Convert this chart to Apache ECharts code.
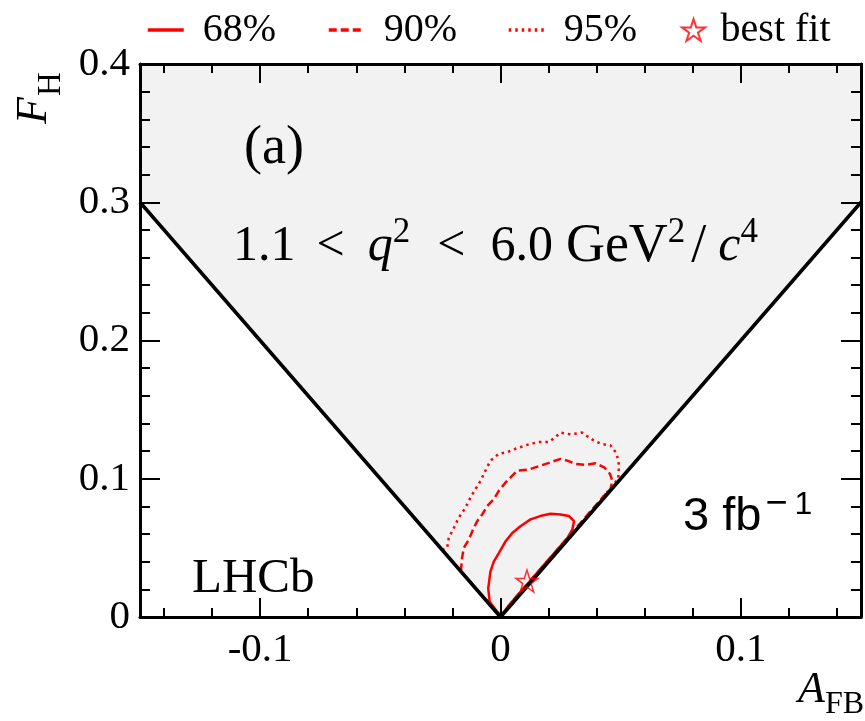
<!DOCTYPE html>
<html>
<head>
<meta charset="utf-8">
<script src="https://cdn.jsdelivr.net/npm/echarts@6/dist/echarts.min.js"></script>
<style>
  html, body { margin: 0; padding: 0; background: #ffffff; }
  #chart { width: 865px; height: 721px; }
</style>
</head>
<body>
<div id="chart"></div>
<script>
// Tick positions
const xMajorTicks = [-0.1, 0, 0.1];
const xMinorTicks = [-0.14, -0.12, -0.08, -0.06, -0.04, -0.02, 0.02, 0.04, 0.06, 0.08, 0.12, 0.14];

// Physical region (shaded) and its boundary |A_FB| = F_H / 2
const allowedRegion = [[-0.15, 0.4], [-0.15, 0.3], [0, 0], [0.15, 0.3], [0.15, 0.4]];
const boundary = [[-0.15, 0.3], [0, 0], [0.15, 0.3]];

// Confidence contours (A_FB, F_H)
const contour68 = [
  [0.0003, 0.001], [-0.002, 0.005], [-0.0045, 0.011], [-0.0051, 0.0207], [-0.0042, 0.0328],
  [-0.0028, 0.0401], [-0.0007, 0.0462], [0.0021, 0.0547], [0.0049, 0.0608], [0.0083, 0.0657],
  [0.0125, 0.0706], [0.0165, 0.073], [0.0208, 0.0747], [0.025, 0.0742], [0.0285, 0.073],
  [0.0306, 0.0693], [0.0299, 0.0633], [0.0276, 0.0565], [0.0190, 0.0395], [0.0110, 0.0235],
  [0.0040, 0.0095], [0.0003, 0.001]
];
const contour90 = [
  [-0.0165, 0.033], [-0.016, 0.0426], [-0.0153, 0.0499], [-0.0132, 0.056], [-0.0111, 0.0645],
  [-0.0097, 0.0693], [-0.0076, 0.0742], [-0.0055, 0.0803], [-0.0028, 0.0852], [-0.0007, 0.0912],
  [0.0021, 0.0973], [0.0049, 0.1022], [0.0069, 0.1058], [0.0111, 0.1066], [0.0125, 0.1071],
  [0.0167, 0.1095], [0.0208, 0.1119], [0.025, 0.1144], [0.0278, 0.1131], [0.0313, 0.1107],
  [0.0354, 0.11], [0.0396, 0.1112], [0.0431, 0.1083], [0.0456, 0.1034], [0.0465, 0.0985],
  [0.0458, 0.0925], [0.0440, 0.0895], [0.0350, 0.0715], [0.0250, 0.0515], [0.0150, 0.0315],
  [0.0060, 0.0135], [0.0003, 0.001], [-0.008, 0.016], [-0.0165, 0.033]
];
const contour95 = [
  [-0.0243, 0.0487], [-0.0222, 0.0500], [-0.0215, 0.0572], [-0.0194, 0.0645], [-0.0174, 0.0718],
  [-0.0146, 0.079], [-0.0125, 0.0864], [-0.0104, 0.0925], [-0.0083, 0.0985], [-0.0063, 0.1058],
  [-0.0042, 0.1131], [-0.0007, 0.118], [0.0028, 0.1192], [0.0063, 0.1217], [0.0104, 0.1241],
  [0.0125, 0.1253], [0.016, 0.1265], [0.0201, 0.1265], [0.0229, 0.1302], [0.025, 0.1334],
  [0.0292, 0.1321], [0.034, 0.1334], [0.0375, 0.129], [0.0417, 0.1253], [0.0458, 0.1241],
  [0.0479, 0.1192], [0.0489, 0.1144], [0.0493, 0.1095], [0.0490, 0.1000], [0.0425, 0.0865]
];
const bestFit = [[0.011, 0.026]];

const seriesNames = ['68%', '90%', '95%', 'best fit'];

const SERIF = '"Liberation Serif", "Times New Roman", serif';
const SANS = '"Liberation Sans", Arial, sans-serif';
const RED = '#ff0000';
const CLEAR = 'rgba(0,0,0,0)';
const STAR = 'path://M50,2 L61.2,36.6 L97.6,36.6 L68.2,58 L79.4,92.6 L50,71.2 L20.6,92.6 L31.8,58 L2.4,36.6 L38.8,36.6 Z';

const X_MIN = -0.15, X_MAX = 0.15, Y_MIN = 0, Y_MAX = 0.4;

function xAxisDef(position, ticks, tickLen, showLine, showLabel) {
  return {
    type: 'value', position: position, min: X_MIN, max: X_MAX, z: 10,
    axisLine: { show: showLine, onZero: false, lineStyle: { color: '#000', width: 3 } },
    axisTick: { show: true, inside: true, length: tickLen, customValues: ticks,
                lineStyle: { color: '#000', width: 2 } },
    axisLabel: showLabel ? { show: true, customValues: ticks, color: '#000',
                fontFamily: SERIF, fontSize: 41, margin: 13 } : { show: false },
    splitLine: { show: false }
  };
}
function yAxisDef(position, showLabel) {
  return {
    type: 'value', position: position, min: Y_MIN, max: Y_MAX, interval: 0.1, z: 10,
    axisLine: { show: true, onZero: false, lineStyle: { color: '#000', width: 3 } },
    axisTick: { show: true, inside: true, length: 20, lineStyle: { color: '#000', width: 2 } },
    minorTick: { show: true, splitNumber: 5, length: 10, lineStyle: { color: '#000', width: 2 } },
    axisLabel: showLabel ? { show: true, color: '#000', fontFamily: SERIF, fontSize: 41, margin: 10 }
                         : { show: false },
    splitLine: { show: false },
    minorSplitLine: { show: false }
  };
}

// One legend block per entry so each sits at its own offset
function legendItem(name, left, textPad, isLine) {
  const lg = {
    data: [name], left: left, top: 10, padding: 0, orient: 'horizontal',
    itemWidth: 36, itemHeight: 22, selectedMode: false,
    textStyle: { fontFamily: SERIF, fontSize: 40, color: '#000', padding: [0, 0, 0, textPad] }
  };
  if (isLine) {
    lg.itemStyle = { color: CLEAR, borderColor: CLEAR, borderWidth: 0 };
    lg.lineStyle = { width: 3.5 };
  }
  return lg;
}

const chart = echarts.init(document.getElementById('chart'), null, { renderer: 'canvas' });

chart.setOption({
  animation: false,
  backgroundColor: '#ffffff',
  grid: { left: 140, right: 4, top: 64, bottom: 104, containLabel: false, outerBoundsMode: 'none' },
  legend: [
    legendItem(seriesNames[0], 146, 14, true),
    legendItem(seriesNames[1], 327, 14, true),
    legendItem(seriesNames[2], 507, 14, true),
    legendItem(seriesNames[3], 681, 4, false)
  ],
  xAxis: [
    xAxisDef('bottom', xMajorTicks, 19, true, true),
    xAxisDef('bottom', xMinorTicks, 9, false, false),
    xAxisDef('top', xMajorTicks, 19, true, false),
    xAxisDef('top', xMinorTicks, 9, false, false)
  ],
  yAxis: [
    yAxisDef('left', true),
    yAxisDef('right', false)
  ],
  graphic: [
    { type: 'text', x: 34, y: 124, rotation: Math.PI / 2, z: 100,
      style: { text: '{i|F}{s|H}', align: 'left', verticalAlign: 'middle', fill: '#000',
        rich: { i: { fontFamily: SERIF, fontStyle: 'italic', fontSize: 44 },
                s: { fontFamily: SERIF, fontSize: 33, padding: [34, 0, 0, 1] } } } },
    { type: 'text', x: 798, y: 690, z: 100,
      style: { text: '{i|A}{s|FB}', align: 'left', verticalAlign: 'middle', fill: '#000',
        rich: { i: { fontFamily: SERIF, fontStyle: 'italic', fontSize: 44 },
                s: { fontFamily: SERIF, fontSize: 32, padding: [30, 0, 0, 0] } } } },
    { type: 'text', x: 244, y: 149, z: 100,
      style: { text: '(a)', font: '54px ' + SERIF, fill: '#000', align: 'left', verticalAlign: 'middle' } },
    { type: 'text', x: 233, y: 247, z: 100,
      style: { text: '{n|1.1}{op|<}{iq|q}{sup|2}{op2|<}{n2|6.0}{u|GeV}{sup|2}{sl|/}{ic|c}{sup|4}',
        align: 'left', verticalAlign: 'middle', fill: '#000',
        rich: {
          n: { fontFamily: SERIF, fontSize: 50 },
          op: { fontFamily: SERIF, fontSize: 50, padding: [0, 0, 0, 21] },
          iq: { fontFamily: SERIF, fontStyle: 'italic', fontSize: 50, padding: [0, 0, 0, 23] },
          op2: { fontFamily: SERIF, fontSize: 50, padding: [0, 0, 0, 27] },
          n2: { fontFamily: SERIF, fontSize: 50, padding: [0, 0, 0, 25] },
          u: { fontFamily: SERIF, fontSize: 54, padding: [0, 0, 0, 13] },
          sl: { fontFamily: SERIF, fontSize: 54, padding: [0, 6, 0, 6] },
          ic: { fontFamily: SERIF, fontStyle: 'italic', fontSize: 50, padding: [0, 0, 0, 6] },
          sup: { fontFamily: SERIF, fontSize: 35, padding: [0, 0, 28, 0] }
        } } },
    { type: 'text', x: 192, y: 579, z: 100,
      style: { text: 'LHCb', font: '49px ' + SERIF, fill: '#000', align: 'left', verticalAlign: 'middle' } },
    { type: 'text', x: 683, y: 517, z: 100,
      style: { text: '{n|3 fb}{m|\u2212}{o|1}', align: 'left', verticalAlign: 'middle', fill: '#000',
        rich: { n: { fontFamily: SANS, fontSize: 47 },
                m: { fontFamily: SANS, fontSize: 38, padding: [0, 0, 24, 4] },
                o: { fontFamily: SANS, fontSize: 32, padding: [0, 0, 24, 7] } } } }
  ],
  series: [
    {
      name: 'region', type: 'custom', xAxisIndex: 0, yAxisIndex: 0, z: 1, silent: true,
      data: [[0, 0]],
      renderItem: function (params, api) {
        const pts = allowedRegion.map(function (p) { return api.coord(p); });
        return { type: 'polygon', shape: { points: pts }, style: { fill: '#f2f2f2' } };
      }
    },
    { name: seriesNames[0], type: 'line', data: contour68, z: 3, symbol: 'none', showSymbol: false,
      lineStyle: { color: RED, width: 2.5, type: 'solid' }, itemStyle: { color: RED } },
    { name: seriesNames[1], type: 'line', data: contour90, z: 3, symbol: 'none', showSymbol: false,
      lineStyle: { color: RED, width: 2.5, type: [8, 4] }, itemStyle: { color: RED } },
    { name: seriesNames[2], type: 'line', data: contour95, z: 3, symbol: 'none', showSymbol: false,
      lineStyle: { color: RED, width: 2.5, type: [2.5, 4] }, itemStyle: { color: RED } },
    { name: 'boundary', type: 'line', data: boundary, z: 4, symbol: 'none', showSymbol: false,
      lineStyle: { color: '#000', width: 3.5 }, silent: true },
    { name: seriesNames[3], type: 'scatter', data: bestFit, z: 5, symbol: STAR, symbolSize: 22,
      itemStyle: { color: 'rgba(255,255,255,0)', borderColor: RED, borderWidth: 1.5 } }
  ]
});
</script>
</body>
</html>
